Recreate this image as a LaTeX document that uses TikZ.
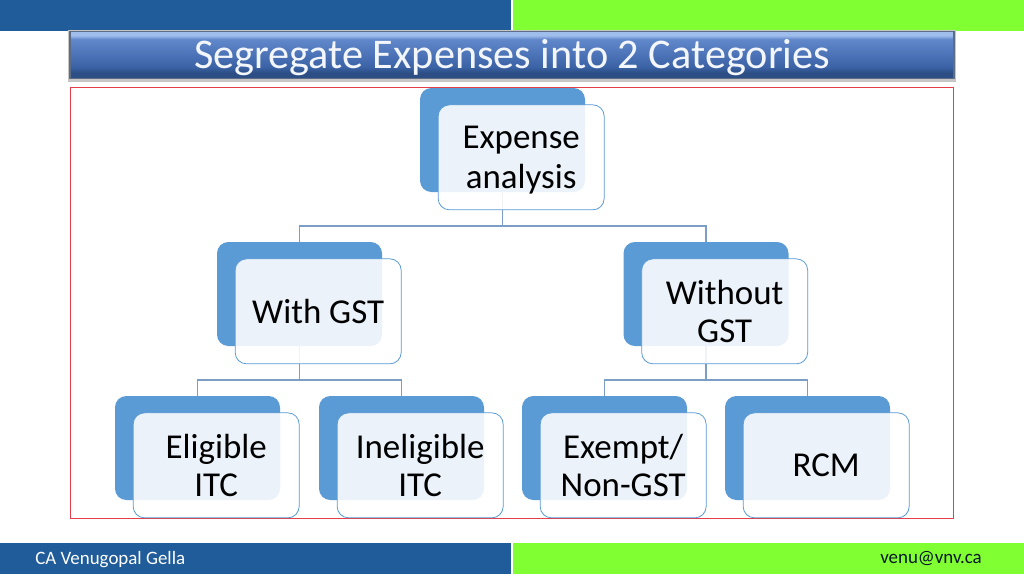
\documentclass[tikz,border=0pt]{standalone}
\usepackage{fontspec}
\setmainfont{Carlito}
\usetikzlibrary{positioning}

\definecolor{barblue}{RGB}{31,92,153}
\definecolor{bargreen}{RGB}{128,255,51}
\definecolor{backblue}{RGB}{91,155,213}
\definecolor{lineblue}{RGB}{125,158,196}
\definecolor{frameblue}{RGB}{52,72,104}
\definecolor{framered}{RGB}{226,62,76}
\definecolor{titlebottom}{RGB}{44,78,132}
\definecolor{titlemid}{RGB}{58,98,165}
\definecolor{titlehigh}{RGB}{98,136,204}
\definecolor{titletop}{RGB}{160,190,235}

\pgfdeclareverticalshading{titleshade}{100bp}{
	color(0bp)=(titlebottom); color(6bp)=(titlebottom); color(12bp)=(titlemid);
	color(42bp)=(titlehigh); color(46bp)=(titletop); color(50bp)=(titletop)}

\tikzset{
	backbox/.style={fill=backblue, rounded corners=8.5pt, minimum width=123.75pt, minimum height=78pt, inner sep=0pt},
	frontbox/.style={draw=backblue, line width=.6pt, fill=white, fill opacity=.88, text opacity=1, rounded corners=8.5pt,
		minimum width=124.5pt, minimum height=78.75pt, inner sep=0pt, align=center, font=\fontsize{26.2}{29}\selectfont,
		xshift=14pt, yshift=-13pt},
	conn/.style={draw=lineblue, line width=.8pt},
	strip/.style={minimum height=23.25pt, inner sep=0pt, outer sep=0pt, anchor=north west},
	foottext/.style={font=\fontsize{14.2}{17}\selectfont, inner sep=0pt}
}

\begin{document}
\begin{tikzpicture}[x=.75pt, y=-.75pt]
	\useasboundingbox (0,0) rectangle (1024,576);
	\fill[white] (0,0) rectangle (1024,576);

	\node [strip, fill=barblue, minimum width=383.25pt]	(topblue)  at (0,0) {};
	\node [strip, fill=bargreen, minimum width=383.25pt]	(topgreen) at (513,0) {};
	\node [strip, fill=barblue, minimum width=383.25pt]	(footblue)  at (0,543) {};
	\node [strip, fill=bargreen, minimum width=383.25pt]	(footgreen) at (513,543) {};
	\node [foottext, text=white, anchor=west] (author) at (35,559.5) {CA Venugopal Gella};
	\node [foottext, text=black!75!barblue, anchor=east] (mail) at (982,558.5) {venu@vnv.ca};

	\node [fill=gray!45, minimum width=666.5pt, minimum height=39pt, inner sep=0pt] (titleglow) at (512,55.5) {};
	\node [shading=titleshade, draw=frameblue!80, line width=1pt, minimum width=663pt, minimum height=35pt, inner sep=0pt] (titlebar) at (512,55) {};
	\node [text=white!92!titlehigh, font=\fontsize{31.7}{38}\selectfont] (title) at (512,57.5) {Segregate Expenses into 2 Categories};

	\node [draw=framered, line width=.6pt, minimum width=662.25pt, minimum height=323.25pt, inner sep=0pt] (frame) at (511.5,302.5) {};

	\coordinate (busone)   at (503,226);
	\coordinate (buswith)  at (299.5,380);
	\coordinate (buswithout) at (706,380);

	% back boxes
	\node [backbox] (expenseback)  at (502.5,140) {};
	\node [backbox] (withback)     at (299.5,294) {};
	\node [backbox] (withoutback)  at (706,294) {};
	\node [backbox] (eligibleback) at (197.5,448) {};
	\node [backbox] (ineligibleback) at (401.5,448) {};
	\node [backbox] (exemptback)   at (604.5,448) {};
	\node [backbox] (rcmback)      at (807.5,448) {};

	\draw[conn] (expenseback.south) |- (busone) -| (withback.north);
	\draw[conn] (expenseback.south) |- (busone) -| (withoutback.north);
	\draw[conn] (withback.south) |- (buswith) -| (eligibleback.north);
	\draw[conn] (withback.south) |- (buswith) -| (ineligibleback.north);
	\draw[conn] (withoutback.south) |- (buswithout) -| (exemptback.north);
	\draw[conn] (withoutback.south) |- (buswithout) -| (rcmback.north);

	\node [frontbox] (expense)    at (expenseback)  {\rule{0pt}{21pt}Expense\\[.8pt]analysis};
	\node [frontbox] (with)       at (withback)     {With GST};
	\node [frontbox] (without)    at (withoutback)  {Without\\GST};
	\node [frontbox] (eligible)   at (eligibleback) {Eligible\\ITC};
	\node [frontbox] (ineligible) at (ineligibleback) {Ineligible\\ITC};
	\node [frontbox] (exempt)     at (exemptback)   {Exempt/\\Non-GST};
	\node [frontbox] (rcm)        at (rcmback)      {RCM};
\end{tikzpicture}
\end{document}
